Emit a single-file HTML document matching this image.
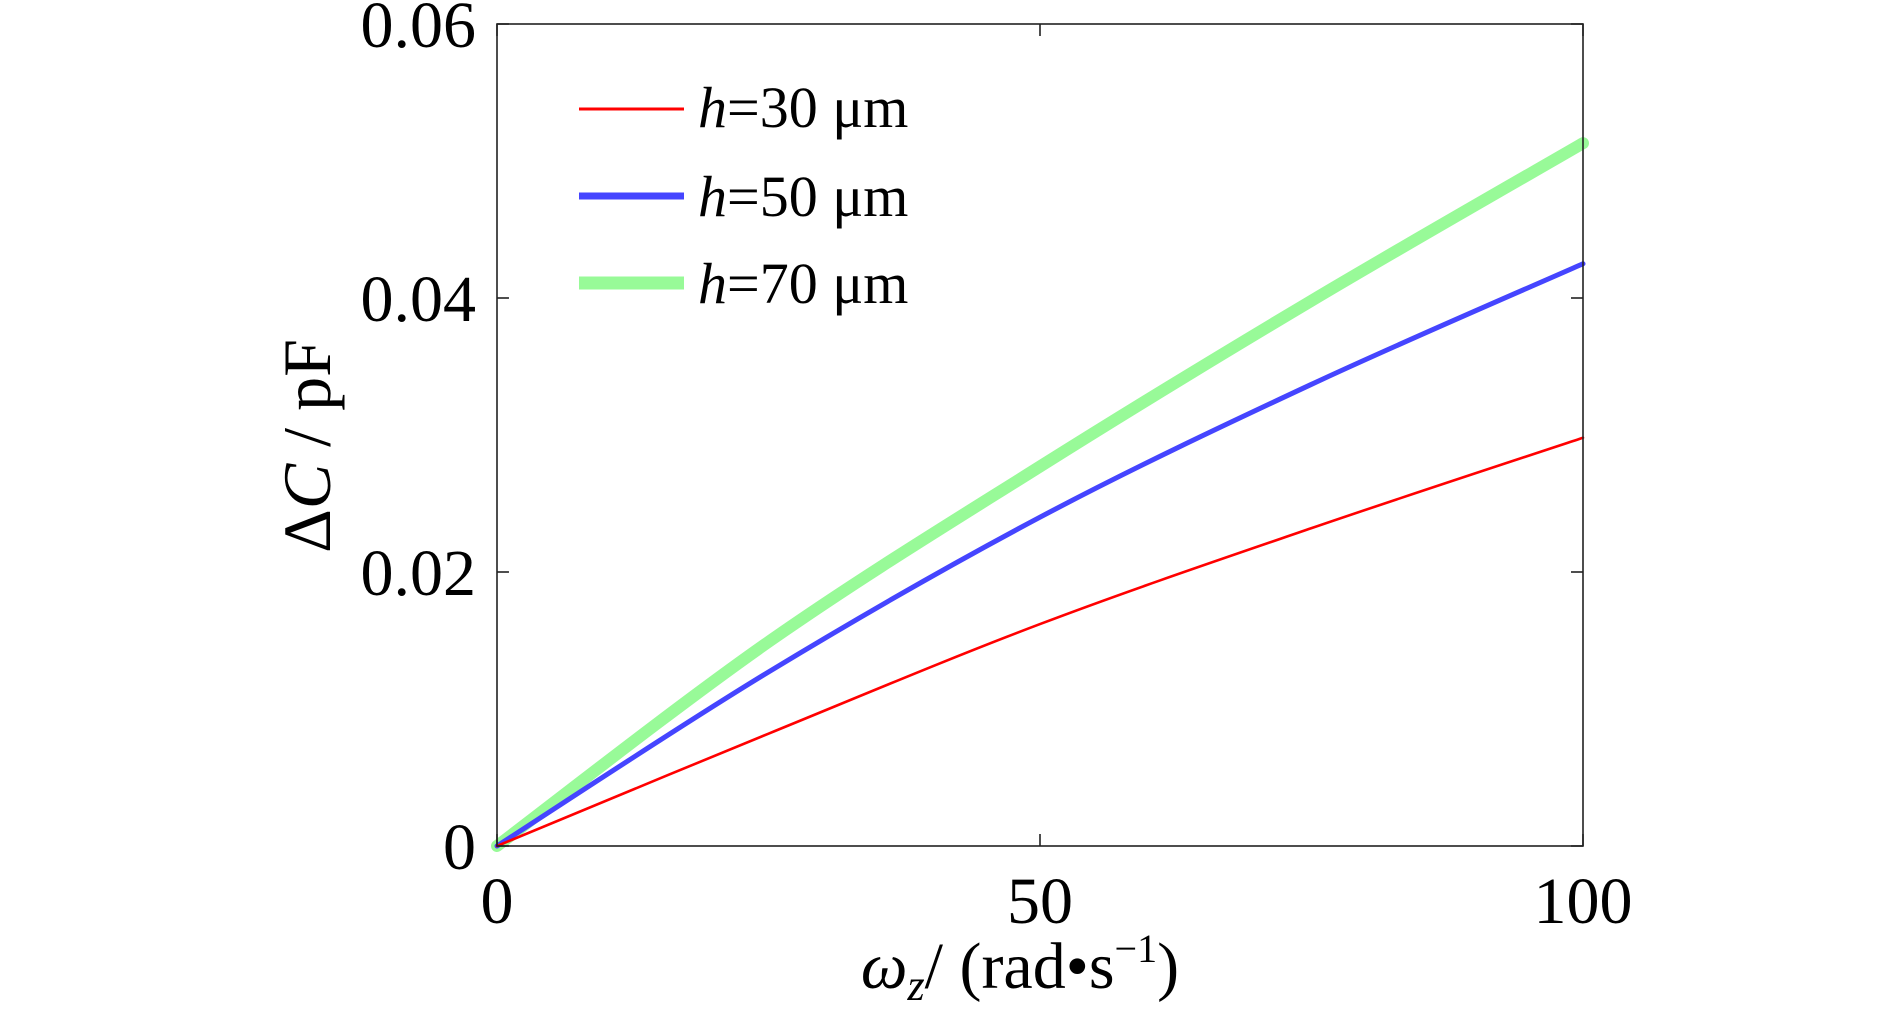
<!DOCTYPE html>
<html><head><meta charset="utf-8"><style>
html,body{margin:0;padding:0;background:#fff;}
svg{display:block;font-family:"Liberation Serif",serif;}
</style></head><body>
<svg id="chart" width="1890" height="1009" viewBox="0 0 1890 1009" xmlns="http://www.w3.org/2000/svg">
<g id="marks"></g>
<rect x="497" y="24" width="1086" height="822" fill="none" stroke="#222" stroke-width="1.6"/>
<g id="ticks"></g>
<text transform="translate(330,446) rotate(-90)" text-anchor="middle" font-size="68">Δ<tspan font-style="italic">C</tspan> / pF</text>
<text x="1020" y="988" text-anchor="middle" font-size="66"><tspan font-style="italic">ω</tspan><tspan font-style="italic" font-size="44" dy="12">z</tspan><tspan dy="-12">/ (rad</tspan><tspan>•</tspan><tspan>s</tspan><tspan font-size="40" dy="-26">−1</tspan><tspan dy="26">)</tspan></text>
<g>
<line x1="579" y1="109" x2="684" y2="109" stroke="#ff0000" stroke-width="3"/>
<text x="698" y="127" font-size="58"><tspan font-style="italic">h</tspan>=30 μm</text>
<line x1="579" y1="196" x2="684" y2="196" stroke="#4545ff" stroke-width="7"/>
<text x="698" y="216" font-size="58"><tspan font-style="italic">h</tspan>=50 μm</text>
<line x1="579" y1="283" x2="684" y2="283" stroke="#98fa98" stroke-width="13"/>
<text x="698" y="303" font-size="58"><tspan font-style="italic">h</tspan>=70 μm</text>
</g>
</svg>
<script>
const xs = [0, 25, 50, 75, 100];
const red30 = [0, 0.0082, 0.0162, 0.0232, 0.0298];
const blue50 = [0, 0.0127, 0.0240, 0.0337, 0.0425];
const green70 = [0, 0.0149, 0.0277, 0.0398, 0.0513];
const xTicks = [0, 50, 100];
const yTicks = [0, 0.02, 0.04, 0.06];
const yTickLabels = ["0", "0.02", "0.04", "0.06"];

const X0=497, X1=1583, Y0=846, Y1=24;
function sx(v){return X0+(v-0)/(100-0)*(X1-X0);}
function sy(v){return Y0-(v-0)/(0.06-0)*(Y0-Y1);}
const NS="http://www.w3.org/2000/svg";
function pathFor(vals){
  // monotone-ish smooth curve via Catmull-Rom
  const p=xs.map((x,i)=>[sx(x),sy(vals[i])]);
  let d="M"+p[0][0]+","+p[0][1];
  for(let i=0;i<p.length-1;i++){
    const a=p[Math.max(0,i-1)],b=p[i],c=p[i+1],e=p[Math.min(p.length-1,i+2)];
    const c1=[b[0]+(c[0]-a[0])/6,b[1]+(c[1]-a[1])/6];
    const c2=[c[0]-(e[0]-b[0])/6,c[1]-(e[1]-b[1])/6];
    d+=" C"+c1+" "+c2+" "+c;
  }
  return d;
}
const marks=document.getElementById('marks');
[[green70,"#98fa98",12,"series-h70"],[blue50,"#4545ff",5,"series-h50"],[red30,"#ff0000",2.6,"series-h30"]].forEach(s=>{
  const el=document.createElementNS(NS,'path');
  el.setAttribute('d',pathFor(s[0]));
  el.setAttribute('fill','none');
  el.setAttribute('stroke',s[1]);
  el.setAttribute('stroke-width',s[2]);
  el.setAttribute('stroke-linecap','round');
  
  
  marks.appendChild(el);
});
const ticks=document.getElementById('ticks');
xTicks.forEach(v=>{
  const x=sx(v);
  for(const [ya,yb] of [[Y0,Y0-12],[Y1,Y1+12]]){
    const l=document.createElementNS(NS,'line');
    l.setAttribute('x1',x);l.setAttribute('x2',x);l.setAttribute('y1',ya);l.setAttribute('y2',yb);
    l.setAttribute('stroke','#222');l.setAttribute('stroke-width','1.6');
    
    
    ticks.appendChild(l);
  }
  const t=document.createElementNS(NS,'text');
  t.setAttribute('x',x);t.setAttribute('y',923);t.setAttribute('text-anchor','middle');t.setAttribute('font-size','66');
  t.textContent=String(v);
  
  
  ticks.appendChild(t);
});
yTicks.forEach((v,i)=>{
  const y=sy(v);
  for(const [xa,xb] of [[X0,X0+12],[X1,X1-12]]){
    const l=document.createElementNS(NS,'line');
    l.setAttribute('x1',xa);l.setAttribute('x2',xb);l.setAttribute('y1',y);l.setAttribute('y2',y);
    l.setAttribute('stroke','#222');l.setAttribute('stroke-width','1.6');
    
    
    ticks.appendChild(l);
  }
  const t=document.createElementNS(NS,'text');
  t.setAttribute('x',476);t.setAttribute('y',y+23);t.setAttribute('text-anchor','end');t.setAttribute('font-size','66');
  t.textContent=yTickLabels[i];
  
  
  ticks.appendChild(t);
});
</script>
</body></html>
